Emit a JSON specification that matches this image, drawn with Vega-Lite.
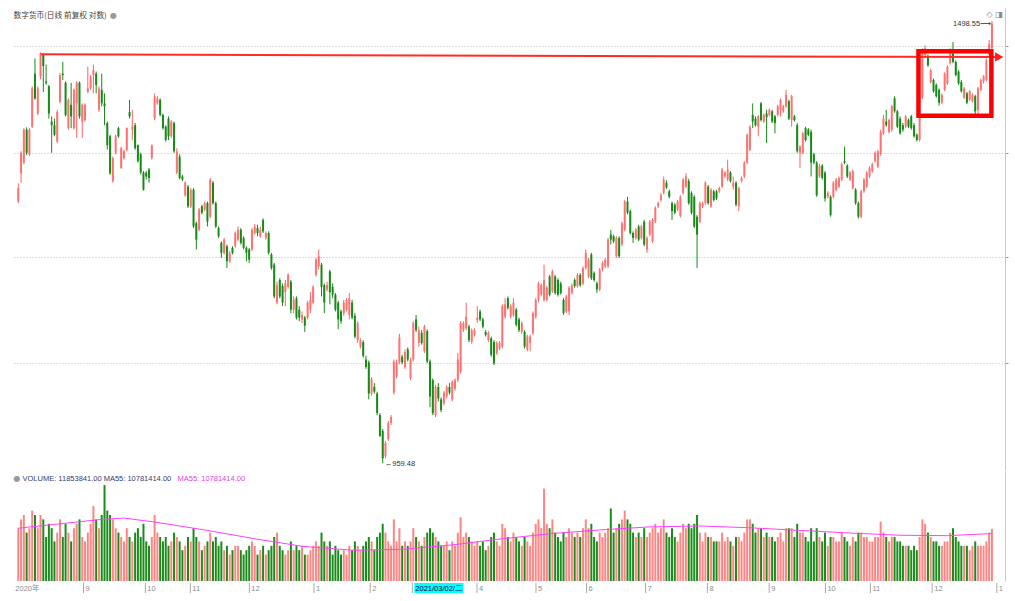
{
"$schema": "https://vega.github.io/schema/vega-lite/v6.json",
"padding": {"left": 12, "top": 8, "right": 2, "bottom": 0},
"background": "#ffffff",
"spacing": 1,
"config": {"view": {"stroke": null}},
"data": {"values": [
{"i":0,"o":1249,"h":1272,"l":1247,"c":1266,"v":12,"m":12.0},
{"i":1,"o":1285,"h":1314,"l":1273,"c":1312,"v":14},
{"i":2,"o":1299,"h":1345,"l":1297,"c":1343,"v":15},
{"i":3,"o":1343,"h":1346,"l":1309,"c":1312,"v":11},
{"i":4,"o":1310,"h":1345,"l":1308,"c":1343,"v":12},
{"i":5,"o":1347,"h":1403,"l":1345,"c":1400,"v":16},
{"i":6,"o":1421,"h":1443,"l":1384,"c":1386,"v":15},
{"i":7,"o":1365,"h":1403,"l":1363,"c":1400,"v":12},
{"i":8,"o":1417,"h":1452,"l":1413,"c":1451,"v":15},
{"i":9,"o":1448,"h":1450,"l":1395,"c":1432,"v":14},
{"i":10,"o":1410,"h":1434,"l":1405,"c":1408,"v":10},
{"i":11,"o":1403,"h":1405,"l":1358,"c":1365,"v":13},
{"i":12,"o":1354,"h":1361,"l":1312,"c":1349,"v":12},
{"i":13,"o":1349,"h":1358,"l":1334,"c":1336,"v":9},
{"i":14,"o":1327,"h":1370,"l":1325,"c":1367,"v":11},
{"i":15,"o":1381,"h":1422,"l":1379,"c":1419,"v":14,"m":13.0},
{"i":16,"o":1421,"h":1438,"l":1412,"c":1419,"v":10},
{"i":17,"o":1408,"h":1410,"l":1361,"c":1363,"v":13},
{"i":18,"o":1345,"h":1386,"l":1343,"c":1384,"v":11},
{"i":19,"o":1377,"h":1408,"l":1345,"c":1361,"v":9},
{"i":20,"o":1345,"h":1400,"l":1343,"c":1398,"v":12},
{"i":21,"o":1379,"h":1410,"l":1332,"c":1408,"v":13},
{"i":22,"o":1408,"h":1410,"l":1358,"c":1361,"v":14},
{"i":23,"o":1354,"h":1379,"l":1332,"c":1377,"v":10},
{"i":24,"o":1356,"h":1379,"l":1354,"c":1377,"v":9},
{"i":25,"o":1395,"h":1431,"l":1393,"c":1400,"v":11},
{"i":26,"o":1400,"h":1419,"l":1398,"c":1417,"v":13},
{"i":27,"o":1419,"h":1434,"l":1393,"c":1426,"v":17},
{"i":28,"o":1421,"h":1424,"l":1393,"c":1405,"v":14},
{"i":29,"o":1370,"h":1403,"l":1367,"c":1400,"v":12},
{"i":30,"o":1398,"h":1421,"l":1375,"c":1379,"v":15,"m":14.0},
{"i":31,"o":1379,"h":1393,"l":1349,"c":1375,"v":21.8},
{"i":32,"o":1352,"h":1354,"l":1316,"c":1322,"v":16},
{"i":33,"o":1334,"h":1336,"l":1283,"c":1285,"v":15},
{"i":34,"o":1275,"h":1307,"l":1273,"c":1305,"v":14},
{"i":35,"o":1312,"h":1336,"l":1310,"c":1334,"v":12},
{"i":36,"o":1345,"h":1347,"l":1332,"c":1334,"v":11},
{"i":37,"o":1292,"h":1320,"l":1291,"c":1318,"v":10},
{"i":38,"o":1305,"h":1316,"l":1303,"c":1314,"v":9,"m":14.3},
{"i":39,"o":1316,"h":1346,"l":1314,"c":1345,"v":12},
{"i":40,"o":1367,"h":1384,"l":1358,"c":1361,"v":10},
{"i":41,"o":1343,"h":1370,"l":1329,"c":1347,"v":9},
{"i":42,"o":1349,"h":1352,"l":1316,"c":1318,"v":11},
{"i":43,"o":1322,"h":1323,"l":1299,"c":1301,"v":12},
{"i":44,"o":1310,"h":1312,"l":1284,"c":1286,"v":10},
{"i":45,"o":1286,"h":1288,"l":1263,"c":1264,"v":13},
{"i":46,"o":1286,"h":1288,"l":1277,"c":1281,"v":9},
{"i":47,"o":1290,"h":1292,"l":1273,"c":1279,"v":8},
{"i":48,"o":1305,"h":1323,"l":1303,"c":1322,"v":10},
{"i":49,"o":1358,"h":1393,"l":1356,"c":1389,"v":15,"m":13.4},
{"i":50,"o":1379,"h":1389,"l":1377,"c":1386,"v":11},
{"i":51,"o":1384,"h":1386,"l":1361,"c":1363,"v":10},
{"i":52,"o":1363,"h":1365,"l":1343,"c":1345,"v":9},
{"i":53,"o":1347,"h":1349,"l":1327,"c":1329,"v":10},
{"i":54,"o":1358,"h":1361,"l":1329,"c":1334,"v":8},
{"i":55,"o":1334,"h":1356,"l":1332,"c":1354,"v":9},
{"i":56,"o":1352,"h":1354,"l":1312,"c":1314,"v":11},
{"i":57,"o":1286,"h":1318,"l":1284,"c":1314,"v":10},
{"i":58,"o":1307,"h":1310,"l":1277,"c":1279,"v":9},
{"i":59,"o":1281,"h":1283,"l":1275,"c":1277,"v":7},
{"i":60,"o":1257,"h":1275,"l":1255,"c":1273,"v":8},
{"i":61,"o":1268,"h":1270,"l":1241,"c":1243,"v":10},
{"i":62,"o":1243,"h":1266,"l":1241,"c":1264,"v":9},
{"i":63,"o":1264,"h":1266,"l":1216,"c":1218,"v":12},
{"i":64,"o":1222,"h":1224,"l":1190,"c":1202,"v":10},
{"i":65,"o":1214,"h":1241,"l":1212,"c":1239,"v":9},
{"i":66,"o":1243,"h":1245,"l":1233,"c":1235,"v":7},
{"i":67,"o":1239,"h":1249,"l":1237,"c":1247,"v":8,"m":11.6},
{"i":68,"o":1247,"h":1249,"l":1218,"c":1224,"v":9},
{"i":69,"o":1230,"h":1279,"l":1228,"c":1277,"v":11},
{"i":70,"o":1273,"h":1275,"l":1245,"c":1247,"v":9},
{"i":71,"o":1247,"h":1249,"l":1216,"c":1218,"v":10},
{"i":72,"o":1216,"h":1218,"l":1204,"c":1206,"v":8},
{"i":73,"o":1198,"h":1200,"l":1180,"c":1186,"v":9},
{"i":74,"o":1186,"h":1204,"l":1184,"c":1202,"v":7},
{"i":75,"o":1194,"h":1196,"l":1168,"c":1176,"v":8},
{"i":76,"o":1176,"h":1188,"l":1174,"c":1186,"v":6},
{"i":77,"o":1192,"h":1194,"l":1184,"c":1186,"v":7},
{"i":78,"o":1194,"h":1212,"l":1192,"c":1210,"v":8},
{"i":79,"o":1202,"h":1218,"l":1200,"c":1214,"v":8},
{"i":80,"o":1214,"h":1216,"l":1196,"c":1198,"v":7},
{"i":81,"o":1204,"h":1206,"l":1190,"c":1192,"v":6},
{"i":82,"o":1192,"h":1194,"l":1176,"c":1186,"v":7},
{"i":83,"o":1190,"h":1192,"l":1174,"c":1178,"v":8},
{"i":84,"o":1190,"h":1216,"l":1188,"c":1214,"v":9},
{"i":85,"o":1210,"h":1221,"l":1208,"c":1218,"v":8,"m":9.6},
{"i":86,"o":1216,"h":1220,"l":1206,"c":1210,"v":6},
{"i":87,"o":1206,"h":1218,"l":1204,"c":1214,"v":7},
{"i":88,"o":1226,"h":1228,"l":1210,"c":1212,"v":8},
{"i":89,"o":1204,"h":1212,"l":1202,"c":1210,"v":6},
{"i":90,"o":1210,"h":1212,"l":1184,"c":1186,"v":7},
{"i":91,"o":1184,"h":1186,"l":1166,"c":1168,"v":8},
{"i":92,"o":1172,"h":1174,"l":1133,"c":1135,"v":10},
{"i":93,"o":1128,"h":1152,"l":1126,"c":1148,"v":11},
{"i":94,"o":1154,"h":1156,"l":1133,"c":1135,"v":8},
{"i":95,"o":1147,"h":1150,"l":1124,"c":1128,"v":7},
{"i":96,"o":1140,"h":1154,"l":1124,"c":1150,"v":6},
{"i":97,"o":1146,"h":1162,"l":1144,"c":1160,"v":7},
{"i":98,"o":1152,"h":1154,"l":1116,"c":1120,"v":9},
{"i":99,"o":1120,"h":1135,"l":1116,"c":1131,"v":7},
{"i":100,"o":1133,"h":1135,"l":1109,"c":1111,"v":8},
{"i":101,"o":1120,"h":1124,"l":1107,"c":1111,"v":7},
{"i":102,"o":1109,"h":1118,"l":1105,"c":1114,"v":8,"m":7.9},
{"i":103,"o":1111,"h":1113,"l":1095,"c":1102,"v":6},
{"i":104,"o":1111,"h":1130,"l":1109,"c":1128,"v":6},
{"i":105,"o":1120,"h":1140,"l":1116,"c":1131,"v":7},
{"i":106,"o":1128,"h":1148,"l":1126,"c":1146,"v":8},
{"i":107,"o":1160,"h":1180,"l":1158,"c":1178,"v":9},
{"i":108,"o":1170,"h":1190,"l":1166,"c":1182,"v":8},
{"i":109,"o":1172,"h":1174,"l":1135,"c":1146,"v":11},
{"i":110,"o":1148,"h":1150,"l":1116,"c":1128,"v":9},
{"i":111,"o":1143,"h":1152,"l":1141,"c":1148,"v":8},
{"i":112,"o":1164,"h":1166,"l":1126,"c":1140,"v":9},
{"i":113,"o":1146,"h":1150,"l":1133,"c":1137,"v":6},
{"i":114,"o":1137,"h":1139,"l":1118,"c":1120,"v":8},
{"i":115,"o":1128,"h":1130,"l":1098,"c":1109,"v":7},
{"i":116,"o":1118,"h":1120,"l":1104,"c":1107,"v":6},
{"i":117,"o":1116,"h":1131,"l":1113,"c":1128,"v":7},
{"i":118,"o":1120,"h":1133,"l":1118,"c":1131,"v":6},
{"i":119,"o":1114,"h":1139,"l":1109,"c":1133,"v":8},
{"i":120,"o":1128,"h":1131,"l":1109,"c":1111,"v":7,"m":7.0},
{"i":121,"o":1113,"h":1116,"l":1088,"c":1090,"v":9},
{"i":122,"o":1086,"h":1107,"l":1083,"c":1105,"v":8},
{"i":123,"o":1079,"h":1088,"l":1077,"c":1086,"v":7},
{"i":124,"o":1084,"h":1086,"l":1067,"c":1069,"v":8},
{"i":125,"o":1065,"h":1069,"l":1055,"c":1057,"v":9},
{"i":126,"o":1062,"h":1064,"l":1023,"c":1029,"v":10},
{"i":127,"o":1029,"h":1046,"l":1027,"c":1044,"v":9},
{"i":128,"o":1036,"h":1040,"l":1029,"c":1031,"v":7},
{"i":129,"o":1029,"h":1031,"l":1007,"c":1009,"v":10},
{"i":130,"o":1007,"h":1009,"l":985,"c":986,"v":11},
{"i":131,"o":991,"h":993,"l":959.48,"c":964,"v":13},
{"i":132,"o":966,"h":981,"l":964,"c":979,"v":11},
{"i":133,"o":983,"h":1001,"l":981,"c":999,"v":9},
{"i":134,"o":999,"h":1007,"l":997,"c":1005,"v":8},
{"i":135,"o":1030,"h":1065,"l":1028,"c":1063,"v":14},
{"i":136,"o":1047,"h":1065,"l":1045,"c":1062,"v":9},
{"i":137,"o":1062,"h":1093,"l":1060,"c":1089,"v":12},
{"i":138,"o":1068,"h":1070,"l":1060,"c":1062,"v":8,"m":7.2},
{"i":139,"o":1057,"h":1076,"l":1055,"c":1073,"v":9},
{"i":140,"o":1076,"h":1078,"l":1063,"c":1065,"v":8},
{"i":141,"o":1045,"h":1067,"l":1043,"c":1065,"v":9},
{"i":142,"o":1065,"h":1107,"l":1063,"c":1105,"v":12},
{"i":143,"o":1109,"h":1114,"l":1095,"c":1097,"v":10},
{"i":144,"o":1083,"h":1101,"l":1079,"c":1097,"v":9},
{"i":145,"o":1094,"h":1097,"l":1081,"c":1083,"v":8},
{"i":146,"o":1074,"h":1103,"l":1072,"c":1101,"v":10},
{"i":147,"o":1096,"h":1098,"l":1061,"c":1063,"v":11},
{"i":148,"o":1063,"h":1065,"l":1015,"c":1026,"v":12},
{"i":149,"o":1043,"h":1045,"l":1007,"c":1009,"v":11},
{"i":150,"o":1007,"h":1038,"l":1005,"c":1036,"v":10},
{"i":151,"o":1036,"h":1040,"l":1021,"c":1024,"v":9},
{"i":152,"o":1023,"h":1025,"l":1010,"c":1012,"v":8},
{"i":153,"o":1019,"h":1032,"l":1017,"c":1030,"v":8},
{"i":154,"o":1026,"h":1038,"l":1024,"c":1036,"v":9},
{"i":155,"o":1036,"h":1040,"l":1028,"c":1030,"v":7},
{"i":156,"o":1023,"h":1043,"l":1021,"c":1041,"v":9,"m":8.2},
{"i":157,"o":1034,"h":1045,"l":1032,"c":1043,"v":8},
{"i":158,"o":1043,"h":1072,"l":1041,"c":1065,"v":11},
{"i":159,"o":1052,"h":1107,"l":1050,"c":1105,"v":14.5},
{"i":160,"o":1097,"h":1107,"l":1095,"c":1105,"v":10},
{"i":161,"o":1099,"h":1128,"l":1097,"c":1112,"v":11},
{"i":162,"o":1101,"h":1103,"l":1084,"c":1086,"v":10},
{"i":163,"o":1084,"h":1099,"l":1082,"c":1097,"v":9},
{"i":164,"o":1092,"h":1099,"l":1090,"c":1097,"v":8},
{"i":165,"o":1108,"h":1124,"l":1105,"c":1111,"v":9},
{"i":166,"o":1118,"h":1120,"l":1107,"c":1109,"v":8},
{"i":167,"o":1109,"h":1111,"l":1099,"c":1101,"v":9},
{"i":168,"o":1095,"h":1097,"l":1090,"c":1092,"v":7},
{"i":169,"o":1086,"h":1096,"l":1084,"c":1094,"v":8},
{"i":170,"o":1088,"h":1090,"l":1068,"c":1070,"v":10},
{"i":171,"o":1084,"h":1086,"l":1059,"c":1061,"v":11},
{"i":172,"o":1072,"h":1085,"l":1070,"c":1083,"v":9},
{"i":173,"o":1077,"h":1085,"l":1075,"c":1083,"v":8},
{"i":174,"o":1079,"h":1126,"l":1077,"c":1124,"v":13,"m":9.6},
{"i":175,"o":1112,"h":1133,"l":1110,"c":1126,"v":12},
{"i":176,"o":1133,"h":1135,"l":1120,"c":1122,"v":10},
{"i":177,"o":1112,"h":1126,"l":1110,"c":1124,"v":9},
{"i":178,"o":1114,"h":1133,"l":1112,"c":1128,"v":11},
{"i":179,"o":1120,"h":1122,"l":1101,"c":1103,"v":10},
{"i":180,"o":1109,"h":1111,"l":1095,"c":1097,"v":9},
{"i":181,"o":1095,"h":1107,"l":1093,"c":1105,"v":8},
{"i":182,"o":1095,"h":1097,"l":1077,"c":1079,"v":10},
{"i":183,"o":1076,"h":1092,"l":1074,"c":1090,"v":9},
{"i":184,"o":1083,"h":1092,"l":1074,"c":1090,"v":8},
{"i":185,"o":1094,"h":1118,"l":1092,"c":1116,"v":11},
{"i":186,"o":1112,"h":1133,"l":1110,"c":1131,"v":13},
{"i":187,"o":1131,"h":1152,"l":1129,"c":1150,"v":14},
{"i":188,"o":1137,"h":1150,"l":1135,"c":1148,"v":12},
{"i":189,"o":1131,"h":1172,"l":1129,"c":1154,"v":21},
{"i":190,"o":1131,"h":1147,"l":1129,"c":1145,"v":13},
{"i":191,"o":1158,"h":1160,"l":1135,"c":1137,"v":12},
{"i":192,"o":1141,"h":1166,"l":1139,"c":1164,"v":14,"m":10.8},
{"i":193,"o":1158,"h":1160,"l":1137,"c":1139,"v":11},
{"i":194,"o":1154,"h":1156,"l":1135,"c":1137,"v":10},
{"i":195,"o":1150,"h":1152,"l":1137,"c":1139,"v":9},
{"i":196,"o":1131,"h":1133,"l":1114,"c":1116,"v":11},
{"i":197,"o":1118,"h":1137,"l":1116,"c":1135,"v":10},
{"i":198,"o":1118,"h":1147,"l":1114,"c":1145,"v":12},
{"i":199,"o":1139,"h":1150,"l":1137,"c":1148,"v":11},
{"i":200,"o":1154,"h":1156,"l":1145,"c":1147,"v":10},
{"i":201,"o":1147,"h":1162,"l":1145,"c":1160,"v":11},
{"i":202,"o":1160,"h":1162,"l":1146,"c":1148,"v":10},
{"i":203,"o":1150,"h":1170,"l":1148,"c":1168,"v":12},
{"i":204,"o":1168,"h":1190,"l":1166,"c":1186,"v":14},
{"i":205,"o":1158,"h":1180,"l":1156,"c":1178,"v":12},
{"i":206,"o":1184,"h":1186,"l":1154,"c":1156,"v":13},
{"i":207,"o":1162,"h":1164,"l":1152,"c":1154,"v":10},
{"i":208,"o":1150,"h":1152,"l":1139,"c":1143,"v":9},
{"i":209,"o":1143,"h":1168,"l":1141,"c":1166,"v":11,"m":11.6},
{"i":210,"o":1166,"h":1176,"l":1164,"c":1174,"v":10},
{"i":211,"o":1170,"h":1180,"l":1168,"c":1178,"v":11},
{"i":212,"o":1170,"h":1204,"l":1168,"c":1202,"v":12},
{"i":213,"o":1208,"h":1214,"l":1196,"c":1202,"v":16.5},
{"i":214,"o":1206,"h":1208,"l":1198,"c":1200,"v":11},
{"i":215,"o":1182,"h":1206,"l":1180,"c":1204,"v":12},
{"i":216,"o":1204,"h":1206,"l":1180,"c":1182,"v":13},
{"i":217,"o":1196,"h":1224,"l":1194,"c":1222,"v":14},
{"i":218,"o":1214,"h":1251,"l":1212,"c":1249,"v":16},
{"i":219,"o":1249,"h":1255,"l":1233,"c":1235,"v":14},
{"i":220,"o":1237,"h":1239,"l":1208,"c":1210,"v":13},
{"i":221,"o":1210,"h":1212,"l":1198,"c":1204,"v":11},
{"i":222,"o":1204,"h":1216,"l":1202,"c":1214,"v":10},
{"i":223,"o":1218,"h":1220,"l":1200,"c":1202,"v":11},
{"i":224,"o":1204,"h":1220,"l":1202,"c":1218,"v":10},
{"i":225,"o":1224,"h":1226,"l":1194,"c":1196,"v":12},
{"i":226,"o":1190,"h":1206,"l":1186,"c":1204,"v":10},
{"i":227,"o":1208,"h":1226,"l":1206,"c":1224,"v":11,"m":12.3},
{"i":228,"o":1200,"h":1228,"l":1198,"c":1226,"v":12},
{"i":229,"o":1224,"h":1243,"l":1222,"c":1241,"v":13},
{"i":230,"o":1243,"h":1249,"l":1241,"c":1247,"v":11},
{"i":231,"o":1251,"h":1260,"l":1249,"c":1257,"v":12},
{"i":232,"o":1260,"h":1281,"l":1258,"c":1277,"v":14},
{"i":233,"o":1273,"h":1276,"l":1265,"c":1267,"v":11},
{"i":234,"o":1262,"h":1264,"l":1253,"c":1255,"v":10},
{"i":235,"o":1247,"h":1249,"l":1226,"c":1237,"v":12},
{"i":236,"o":1245,"h":1247,"l":1233,"c":1235,"v":10},
{"i":237,"o":1239,"h":1251,"l":1237,"c":1249,"v":9},
{"i":238,"o":1231,"h":1257,"l":1229,"c":1255,"v":11},
{"i":239,"o":1260,"h":1279,"l":1258,"c":1277,"v":13},
{"i":240,"o":1268,"h":1285,"l":1266,"c":1281,"v":12},
{"i":241,"o":1275,"h":1278,"l":1245,"c":1247,"v":13},
{"i":242,"o":1260,"h":1262,"l":1233,"c":1235,"v":12},
{"i":243,"o":1255,"h":1257,"l":1216,"c":1218,"v":13},
{"i":244,"o":1230,"h":1232,"l":1168,"c":1208,"v":15},
{"i":245,"o":1224,"h":1249,"l":1222,"c":1247,"v":11,"m":12.5},
{"i":246,"o":1243,"h":1249,"l":1241,"c":1247,"v":9},
{"i":247,"o":1247,"h":1275,"l":1245,"c":1273,"v":11},
{"i":248,"o":1268,"h":1270,"l":1245,"c":1247,"v":10},
{"i":249,"o":1243,"h":1266,"l":1241,"c":1264,"v":10},
{"i":250,"o":1262,"h":1264,"l":1249,"c":1251,"v":9},
{"i":251,"o":1262,"h":1264,"l":1251,"c":1253,"v":9},
{"i":252,"o":1262,"h":1268,"l":1260,"c":1266,"v":9},
{"i":253,"o":1268,"h":1292,"l":1266,"c":1290,"v":11},
{"i":254,"o":1281,"h":1288,"l":1279,"c":1286,"v":9},
{"i":255,"o":1277,"h":1303,"l":1275,"c":1290,"v":10},
{"i":256,"o":1286,"h":1288,"l":1273,"c":1275,"v":9},
{"i":257,"o":1268,"h":1281,"l":1264,"c":1273,"v":8},
{"i":258,"o":1273,"h":1275,"l":1243,"c":1245,"v":10},
{"i":259,"o":1243,"h":1268,"l":1237,"c":1266,"v":10},
{"i":260,"o":1275,"h":1281,"l":1273,"c":1279,"v":9},
{"i":261,"o":1281,"h":1301,"l":1279,"c":1299,"v":11},
{"i":262,"o":1299,"h":1338,"l":1297,"c":1336,"v":14},
{"i":263,"o":1316,"h":1349,"l":1314,"c":1347,"v":14,"m":12.1},
{"i":264,"o":1363,"h":1379,"l":1345,"c":1354,"v":13},
{"i":265,"o":1358,"h":1361,"l":1347,"c":1349,"v":11},
{"i":266,"o":1347,"h":1363,"l":1334,"c":1361,"v":12},
{"i":267,"o":1379,"h":1381,"l":1354,"c":1356,"v":12},
{"i":268,"o":1354,"h":1365,"l":1352,"c":1363,"v":10},
{"i":269,"o":1365,"h":1370,"l":1325,"c":1360,"v":11},
{"i":270,"o":1363,"h":1372,"l":1361,"c":1370,"v":10},
{"i":271,"o":1368,"h":1370,"l":1352,"c":1354,"v":10},
{"i":272,"o":1361,"h":1363,"l":1338,"c":1352,"v":9},
{"i":273,"o":1363,"h":1377,"l":1361,"c":1375,"v":10},
{"i":274,"o":1370,"h":1386,"l":1361,"c":1384,"v":11},
{"i":275,"o":1368,"h":1377,"l":1366,"c":1375,"v":9},
{"i":276,"o":1375,"h":1398,"l":1373,"c":1391,"v":12},
{"i":277,"o":1382,"h":1384,"l":1356,"c":1358,"v":12},
{"i":278,"o":1356,"h":1391,"l":1347,"c":1389,"v":12},
{"i":279,"o":1361,"h":1363,"l":1354,"c":1356,"v":10},
{"i":280,"o":1349,"h":1352,"l":1312,"c":1314,"v":13},
{"i":281,"o":1312,"h":1322,"l":1292,"c":1320,"v":11,"m":11.5},
{"i":282,"o":1312,"h":1340,"l":1310,"c":1338,"v":11},
{"i":283,"o":1345,"h":1347,"l":1327,"c":1329,"v":10},
{"i":284,"o":1343,"h":1345,"l":1334,"c":1336,"v":9},
{"i":285,"o":1340,"h":1343,"l":1281,"c":1299,"v":12},
{"i":286,"o":1310,"h":1312,"l":1297,"c":1299,"v":9},
{"i":287,"o":1299,"h":1301,"l":1255,"c":1257,"v":12},
{"i":288,"o":1281,"h":1297,"l":1279,"c":1295,"v":10},
{"i":289,"o":1295,"h":1297,"l":1277,"c":1279,"v":9},
{"i":290,"o":1286,"h":1288,"l":1249,"c":1253,"v":11},
{"i":291,"o":1255,"h":1262,"l":1253,"c":1260,"v":8},
{"i":292,"o":1255,"h":1257,"l":1230,"c":1232,"v":10},
{"i":293,"o":1255,"h":1275,"l":1253,"c":1273,"v":10},
{"i":294,"o":1264,"h":1279,"l":1262,"c":1277,"v":9},
{"i":295,"o":1268,"h":1281,"l":1266,"c":1279,"v":9},
{"i":296,"o":1277,"h":1299,"l":1275,"c":1297,"v":11},
{"i":297,"o":1301,"h":1320,"l":1297,"c":1299,"v":10},
{"i":298,"o":1295,"h":1297,"l":1279,"c":1281,"v":9},
{"i":299,"o":1277,"h":1288,"l":1275,"c":1286,"v":8,"m":10.9},
{"i":300,"o":1266,"h":1290,"l":1264,"c":1288,"v":10},
{"i":301,"o":1264,"h":1266,"l":1245,"c":1247,"v":9},
{"i":302,"o":1247,"h":1249,"l":1228,"c":1230,"v":11},
{"i":303,"o":1230,"h":1264,"l":1228,"c":1262,"v":11},
{"i":304,"o":1262,"h":1279,"l":1260,"c":1277,"v":10},
{"i":305,"o":1268,"h":1288,"l":1266,"c":1286,"v":10},
{"i":306,"o":1281,"h":1294,"l":1279,"c":1292,"v":9},
{"i":307,"o":1288,"h":1299,"l":1286,"c":1297,"v":9},
{"i":308,"o":1301,"h":1314,"l":1299,"c":1312,"v":10},
{"i":309,"o":1294,"h":1316,"l":1292,"c":1314,"v":10},
{"i":310,"o":1310,"h":1343,"l":1308,"c":1340,"v":13.5},
{"i":311,"o":1338,"h":1363,"l":1336,"c":1358,"v":11},
{"i":312,"o":1354,"h":1370,"l":1347,"c":1349,"v":10},
{"i":313,"o":1340,"h":1358,"l":1338,"c":1356,"v":9},
{"i":314,"o":1343,"h":1377,"l":1340,"c":1375,"v":10},
{"i":315,"o":1386,"h":1389,"l":1366,"c":1368,"v":10},
{"i":316,"o":1368,"h":1370,"l":1345,"c":1347,"v":9},
{"i":317,"o":1358,"h":1361,"l":1336,"c":1338,"v":9,"m":10.4},
{"i":318,"o":1349,"h":1352,"l":1340,"c":1343,"v":8},
{"i":319,"o":1347,"h":1363,"l":1345,"c":1361,"v":8},
{"i":320,"o":1356,"h":1358,"l":1345,"c":1347,"v":8},
{"i":321,"o":1361,"h":1363,"l":1343,"c":1345,"v":7},
{"i":322,"o":1349,"h":1352,"l":1332,"c":1334,"v":8},
{"i":323,"o":1336,"h":1338,"l":1327,"c":1329,"v":7},
{"i":324,"o":1329,"h":1363,"l":1327,"c":1361,"v":10},
{"i":325,"o":1387,"h":1458,"l":1385,"c":1455,"v":14},
{"i":326,"o":1448,"h":1462,"l":1446,"c":1458,"v":13},
{"i":327,"o":1446,"h":1449,"l":1431,"c":1433,"v":11},
{"i":328,"o":1409,"h":1428,"l":1407,"c":1426,"v":10},
{"i":329,"o":1412,"h":1414,"l":1394,"c":1396,"v":9},
{"i":330,"o":1405,"h":1407,"l":1387,"c":1389,"v":9},
{"i":331,"o":1398,"h":1400,"l":1376,"c":1380,"v":8},
{"i":332,"o":1380,"h":1393,"l":1378,"c":1391,"v":8},
{"i":333,"o":1398,"h":1423,"l":1396,"c":1421,"v":9},
{"i":334,"o":1407,"h":1433,"l":1405,"c":1431,"v":9,"m":10.3},
{"i":335,"o":1436,"h":1458,"l":1434,"c":1450,"v":11},
{"i":336,"o":1450,"h":1467,"l":1436,"c":1438,"v":12},
{"i":337,"o":1438,"h":1440,"l":1417,"c":1419,"v":10},
{"i":338,"o":1424,"h":1426,"l":1405,"c":1407,"v":9},
{"i":339,"o":1409,"h":1412,"l":1394,"c":1396,"v":8},
{"i":340,"o":1387,"h":1402,"l":1385,"c":1400,"v":8},
{"i":341,"o":1393,"h":1395,"l":1378,"c":1380,"v":8},
{"i":342,"o":1384,"h":1398,"l":1382,"c":1396,"v":7},
{"i":343,"o":1382,"h":1393,"l":1380,"c":1391,"v":8},
{"i":344,"o":1389,"h":1391,"l":1363,"c":1368,"v":9},
{"i":345,"o":1370,"h":1402,"l":1361,"c":1400,"v":8},
{"i":346,"o":1398,"h":1414,"l":1396,"c":1412,"v":8},
{"i":347,"o":1410,"h":1419,"l":1407,"c":1417,"v":8},
{"i":348,"o":1412,"h":1443,"l":1410,"c":1441,"v":9},
{"i":349,"o":1450,"h":1470,"l":1448,"c":1464,"v":11},
{"i":350,"o":1458,"h":1498.55,"l":1455,"c":1495,"v":11.853841,"m":10.781414}
]},
"vconcat": [
{
"width": 993, "height": 462,
"resolve": {"axis": {"y": "independent"}},
"layer": [
{"mark": {"type": "rule", "strokeWidth": 1, "clip": true},
 "encoding": {
  "x": {"field": "i", "type": "quantitative", "scale": {"domain": [-0.46, 352.9], "nice": false, "zero": false}, "axis": {"orient": "top", "labels": false, "ticks": false, "grid": false, "domainColor": "#c8c8c8", "title": null}},
  "y": {"field": "l", "type": "quantitative", "scale": {"type": "log", "domain": [952.7, 1518.3], "nice": false}, "axis": {"orient": "right", "values": [1061.8, 1180.7, 1312.1, 1460.5], "labels": false, "ticks": true, "tickSize": 3, "tickColor": "#999999", "grid": true, "gridDash": [1, 2], "gridColor": "#bdbdbd", "domainColor": "#c8c8c8", "title": "●", "titleX": -892, "titleY": 7.5, "titleAlign": "center", "titleBaseline": "middle", "titleAngle": 0, "titleFont": "DejaVu Sans", "titleFontSize": 8, "titleFontWeight": "normal", "titleColor": "#9a9a9a", "titleLimit": 1000}},
  "y2": {"field": "h"},
  "color": {"condition": {"test": "datum.c >= datum.o", "value": "#ff6262"}, "value": "#178a17"}
 }},
{"mark": {"type": "bar", "size": 2, "clip": true},
 "encoding": {
  "x": {"field": "i", "type": "quantitative", "axis": null},
  "y": {"field": "o", "type": "quantitative", "axis": {"orient": "left", "domain": false, "labels": false, "ticks": false, "grid": false, "title": "数字货币(日线 前复权 对数)", "titleX": 1, "titleY": 7.5, "titleAlign": "left", "titleBaseline": "middle", "titleAngle": 0, "titleFont": "Noto Sans CJK SC", "titleFontSize": 7.7, "titleFontWeight": "normal", "titleColor": "#444444", "titleLimit": 1000}},
  "y2": {"field": "c"},
  "color": {"condition": {"test": "datum.c >= datum.o", "value": "#ff7272"}, "value": "#178a17"}
 }},
{"data": {"values": [{"i1": 8.1, "i2": 352.3, "p1": 1449, "p2": 1445}]},
 "mark": {"type": "rule", "color": "#ff2b2b", "strokeWidth": 2},
 "encoding": {"x": {"field": "i1", "type": "quantitative", "axis": null}, "x2": {"field": "i2"}, "y": {"field": "p1", "type": "quantitative", "axis": {"orient": "left", "domain": false, "labels": false, "ticks": false, "grid": false, "title": "◇ ◨", "titleX": 974, "titleY": 6, "titleAlign": "left", "titleBaseline": "middle", "titleAngle": 0, "titleFont": "DejaVu Sans", "titleFontSize": 8, "titleFontWeight": "normal", "titleColor": "#8a8a8a", "titleLimit": 1000}}, "y2": {"field": "p2"}}},
{"data": {"values": [{"i": 352.6, "p": 1445}]},
 "mark": {"type": "point", "shape": "triangle-right", "filled": true, "color": "#ff1e1e", "size": 90, "opacity": 1},
 "encoding": {"x": {"field": "i", "type": "quantitative", "axis": null}, "y": {"field": "p", "type": "quantitative", "axis": null}}},
{"data": {"values": [{"a": 323.6, "b": 349.8, "t": 1453.3, "u": 1362}]},
 "mark": {"type": "rect", "fillOpacity": 0, "stroke": "#ff0000", "strokeWidth": 4.5},
 "encoding": {"x": {"field": "a", "type": "quantitative", "axis": null}, "x2": {"field": "b"}, "y": {"field": "t", "type": "quantitative", "axis": null}, "y2": {"field": "u"}}},
{"data": {"values": [{"i": 350, "p": 1498.55, "t": "1498.55⟶"}]},
 "mark": {"type": "text", "align": "right", "baseline": "middle", "dx": -1, "dy": 3.5, "fontSize": 7.5, "color": "#333333", "font": "Liberation Sans, DejaVu Sans"},
 "encoding": {"x": {"field": "i", "type": "quantitative", "axis": null}, "y": {"field": "p", "type": "quantitative", "axis": null}, "text": {"field": "t"}}},
{"data": {"values": [{"i": 131, "p": 959.48, "t": "←959.48"}]},
 "mark": {"type": "text", "align": "left", "baseline": "middle", "dx": 2, "dy": 1, "fontSize": 7.5, "color": "#333333", "font": "Liberation Sans, DejaVu Sans"},
 "encoding": {"x": {"field": "i", "type": "quantitative", "axis": null}, "y": {"field": "p", "type": "quantitative", "axis": null}, "text": {"field": "t"}}}
]
},
{
"width": 993, "height": 110,
"resolve": {"axis": {"y": "independent"}},
"layer": [
{"transform": [{"filter": "datum.c >= datum.o"}],
 "mark": {"type": "bar", "size": 2, "color": "#ff8585"},
 "encoding": {
  "x": {"field": "i", "type": "quantitative", "scale": {"domain": [-0.46, 352.9], "nice": false, "zero": false}, "axis": {"orient": "top", "labels": false, "ticks": false, "grid": false, "domainColor": "#c8c8c8", "title": null}},
  "y": {"field": "v", "type": "quantitative", "scale": {"domain": [0, 25], "nice": false}, "axis": {"orient": "right", "labels": false, "ticks": false, "grid": false, "domainColor": "#c8c8c8", "title": "VOLUME: 11853841.00  MA55: 10781414.00", "titleX": -983, "titleY": 7, "titleAlign": "left", "titleBaseline": "middle", "titleAngle": 0, "titleFont": "Liberation Sans", "titleFontSize": 7.5, "titleFontWeight": "normal", "titleColor": "#3a3a70", "titleLimit": 1000}}
 }},
{"transform": [{"filter": "datum.c < datum.o"}],
 "mark": {"type": "bar", "size": 2, "color": "#1b8c1b"},
 "encoding": {
  "x": {"field": "i", "type": "quantitative", "axis": null},
  "y": {"field": "v", "type": "quantitative", "axis": {"orient": "left", "domain": false, "labels": false, "ticks": false, "grid": false, "title": "●", "titleX": 4.5, "titleY": 7, "titleAlign": "center", "titleBaseline": "middle", "titleAngle": 0, "titleFont": "DejaVu Sans", "titleFontSize": 8, "titleFontWeight": "normal", "titleColor": "#9a9a9a", "titleLimit": 1000}}
 }},
{"transform": [{"filter": "isValid(datum.m)"}],
 "mark": {"type": "line", "color": "#ff40ff", "strokeWidth": 1},
 "encoding": {"x": {"field": "i", "type": "quantitative", "axis": null}, "y": {"field": "m", "type": "quantitative", "axis": {"orient": "left", "domain": false, "labels": false, "ticks": false, "grid": false, "title": "MA55: 10781414.00", "titleX": 165, "titleY": 7, "titleAlign": "left", "titleBaseline": "middle", "titleAngle": 0, "titleFont": "Liberation Sans", "titleFontSize": 7.5, "titleFontWeight": "normal", "titleColor": "#e040e0", "titleLimit": 1000}}}}
]
},
{
"width": 993, "height": 10,
"layer": [
{"data": {"values": [{"i":25},{"i":47},{"i":63},{"i":84},{"i":107},{"i":127},{"i":142},{"i":165},{"i":186},{"i":204},{"i":225},{"i":247},{"i":269},{"i":289},{"i":305},{"i":327},{"i":350}]},
 "mark": {"type": "rule", "color": "#aaaaaa"},
 "encoding": {"x": {"field": "i", "type": "quantitative", "scale": {"domain": [-0.46, 352.9], "nice": false, "zero": false}, "axis": {"orient": "top", "labels": false, "ticks": false, "grid": false, "domainColor": "#c8c8c8", "title": null}}}},
{"data": {"values": [{"i":0,"m":"2020年"},{"i":25,"m":"9"},{"i":47,"m":"10"},{"i":63,"m":"11"},{"i":84,"m":"12"},{"i":107,"m":"1"},{"i":127,"m":"2"},{"i":165,"m":"4"},{"i":186,"m":"5"},{"i":204,"m":"6"},{"i":225,"m":"7"},{"i":247,"m":"8"},{"i":269,"m":"9"},{"i":289,"m":"10"},{"i":305,"m":"11"},{"i":327,"m":"12"},{"i":350,"m":"1"}]},
 "mark": {"type": "text", "align": "left", "baseline": "middle", "dx": 2, "dy": 1, "fontSize": 7.5, "color": "#8c8c8c", "font": "Liberation Sans, Noto Sans CJK SC"},
 "encoding": {"x": {"field": "i", "type": "quantitative", "axis": null}, "text": {"field": "m"}}},
{"data": {"values": [{"i": 142.7, "j": 160.2}]},
 "mark": {"type": "rect", "color": "#00ffff"},
 "encoding": {"x": {"field": "i", "type": "quantitative", "axis": null}, "x2": {"field": "j"}}},
{"data": {"values": [{"i": 142.7, "t": "2021/03/02/二"}]},
 "mark": {"type": "text", "align": "left", "baseline": "middle", "dx": 1, "dy": 1, "fontSize": 7.5, "color": "#000040", "font": "Liberation Sans, Noto Sans CJK SC"},
 "encoding": {"x": {"field": "i", "type": "quantitative", "axis": null}, "text": {"field": "t"}}}
]
}
]
}
